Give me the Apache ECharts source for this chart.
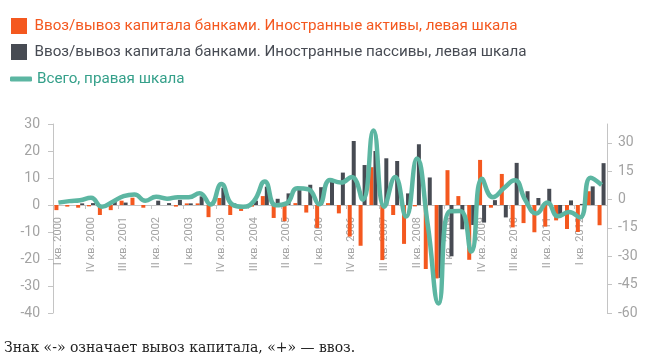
<!DOCTYPE html>
<html>
<head>
<meta charset="utf-8">
<script src="https://cdn.jsdelivr.net/npm/echarts@6/dist/echarts.min.js"></script>
<style>
html,body{margin:0;padding:0;background:#fff;}
#chart{width:650px;height:363px;}
</style>
</head>
<body>
<div id="chart"></div>
<script>
const categories = [
  'I кв. 2000','II кв. 2000','III кв. 2000','IV кв. 2000',
  'I кв. 2001','II кв. 2001','III кв. 2001','IV кв. 2001',
  'I кв. 2002','II кв. 2002','III кв. 2002','IV кв. 2002',
  'I кв. 2003','II кв. 2003','III кв. 2003','IV кв. 2003',
  'I кв. 2004','II кв. 2004','III кв. 2004','IV кв. 2004',
  'I кв. 2005','II кв. 2005','III кв. 2005','IV кв. 2005',
  'I кв. 2006','II кв. 2006','III кв. 2006','IV кв. 2006',
  'I кв. 2007','II кв. 2007','III кв. 2007','IV кв. 2007',
  'I кв. 2008','II кв. 2008','III кв. 2008','IV кв. 2008',
  'I кв. 2009','II кв. 2009','III кв. 2009','IV кв. 2009',
  'I кв. 2010','II кв. 2010','III кв. 2010','IV кв. 2010',
  'I кв. 2011','II кв. 2011','III кв. 2011','IV кв. 2011',
  'I кв. 2012','II кв. 2012','III кв. 2012'
];
const assets = [
  -1.9,-0.6,-1.0,-0.5,-3.7,-1.9,1.6,2.7,-1.0,0,
  0,-0.6,0.6,0.6,-4.5,2.6,-3.7,-2.2,-0.6,3.3,
  -4.8,-6.0,0.7,-2.8,-8.5,0.7,-3.1,-11.7,-15.1,14.0,
  -20.4,-3.7,-14.4,-0.5,-23.7,-27.2,12.9,3.3,-20.3,16.7,
  -1.0,11.5,-8.3,-6.7,-10.1,-8.0,-5.7,-8.9,-10.0,5.1,
  -7.5
];
const liabilities = [
  0,0,0.6,0.7,0,1.2,0.9,0,0,1.6,
  0.7,1.9,0.6,3.2,0.4,6.4,0.6,-0.3,1.6,6.8,
  2.3,4.3,6.0,7.5,6.6,8.5,12.0,23.7,14.8,20.0,
  17.3,16.3,4.3,22.5,10.2,-27.0,-19.0,-9.0,-7.4,-6.5,
  1.8,-4.6,15.6,5.1,2.6,6.0,-3.3,1.7,0.4,6.9,
  15.5
];
const total = [
  -1.6,-0.8,-0.3,1.0,-3.8,-1.1,1.8,2.7,-0.6,1.5,
  0.5,1.3,1.2,3.4,-2.6,8.2,-2.6,-3.8,-0.7,9.6,
  -3.0,-2.0,6.0,5.5,-2.4,10.4,9.0,12.0,0,36.5,
  -3.8,12.0,-9.0,21.7,-13.4,-55.0,-6.2,-6.0,-27.5,11.0,
  1.2,6.0,10.2,-0.5,-7.4,-1.6,-8.8,-6.6,-9.5,11.6,
  7.7
];
const leftTicks = [-40,-30,-20,-10,0,10,20,30];
const rightTicks = [-60,-45,-30,-15,0,15,30];

const names = [
  'Ввоз/вывоз капитала банками. Иностранные активы, левая шкала',
  'Ввоз/вывоз капитала банками. Иностранные пассивы, левая шкала',
  'Всего, правая шкала'
];
const footnote = 'Знак «-» означает вывоз капитала, «+» — ввоз.';

const C_OR = '#f4581f', C_DK = '#474b53', C_TL = '#5cb6a2', C_TLT = '#35a08a';
const gray = '#a3a3a3', axisGray = '#c4c4c4';
const FONT = 'Roboto';

const W = 650, H = 363;
const gridTop = 124, gridBottom = 50;
const leftMin = -40, leftMax = 30;
const gridH = H - gridTop - gridBottom;
const zeroOffset = -gridH * (0 - leftMin) / (leftMax - leftMin);

const chart = echarts.init(document.getElementById('chart'), null, {renderer:'canvas'});
chart.setOption({
  animation: false,
  backgroundColor: '#fff',
  legend: [
    {
      left: 6, top: 13, orient: 'vertical',
      itemWidth: 21, itemHeight: 16, itemGap: 10,
      icon: 'path://M0,0h10v10h-10z',
      textStyle: {fontFamily: FONT, fontSize: 15.2, lineHeight: 16},
      data: [
        {name: names[0], textStyle: {color: C_OR}},
        {name: names[1], textStyle: {color: C_DK}}
      ],
      selectedMode: false
    },
    {
      left: 5, top: 66, orient: 'vertical',
      itemWidth: 22, itemHeight: 5,
      icon: 'roundRect',
      textStyle: {fontFamily: FONT, fontSize: 15.2, lineHeight: 16},
      data: [{name: names[2], textStyle: {color: C_TLT}}],
      selectedMode: false
    }
  ],
  grid: {left: 53, right: 43, top: gridTop, bottom: gridBottom, containLabel: false, outerBoundsMode: 'none'},
  xAxis: {
    type: 'category',
    data: categories,
    boundaryGap: true,
    offset: zeroOffset,
    axisLine: {onZero: false, lineStyle: {color: axisGray, width: 1}},
    axisTick: {show: true, length: 4, lineStyle: {color: axisGray}},
    axisLabel: {
      interval: 2, rotate: 90, margin: 12,
      color: gray, fontFamily: FONT, fontSize: 11
    },
    splitLine: {show: false}
  },
  yAxis: [
    {
      type: 'value', min: leftMin, max: leftMax, interval: 10, position: 'left',
      axisLine: {show: true, lineStyle: {color: axisGray}},
      axisTick: {show: true, length: 5, lineStyle: {color: axisGray}},
      axisLabel: {color: gray, fontFamily: FONT, fontSize: 14, margin: 13,
        customValues: leftTicks},
      splitLine: {show: false}
    },
    {
      type: 'value', min: -60, max: 40, interval: 15, position: 'right',
      axisLine: {show: true, lineStyle: {color: axisGray}},
      axisTick: {show: true, length: 5, lineStyle: {color: axisGray}, customValues: rightTicks},
      axisLabel: {color: gray, fontFamily: FONT, fontSize: 14, margin: 11,
        customValues: rightTicks},
      splitLine: {show: false}
    }
  ],
  series: [
    {
      name: names[0], type: 'bar', yAxisIndex: 0, data: assets,
      barWidth: 4, barGap: '0%',
      itemStyle: {color: C_OR}
    },
    {
      name: names[1], type: 'bar', yAxisIndex: 0, data: liabilities,
      barWidth: 4, barGap: '0%',
      itemStyle: {color: C_DK}
    },
    {
      name: names[2], type: 'line', yAxisIndex: 1, data: total,
      smooth: 0.5, symbol: 'none', z: 5,
      lineStyle: {color: C_TL, width: 4.5},
      itemStyle: {color: C_TL}
    }
  ],
  graphic: [
    {
      type: 'text', left: 4, top: 341,
      style: {text: footnote, fill: '#222', font: '14px "DejaVu Serif"'}
    }
  ]
});
</script>
</body>
</html>
